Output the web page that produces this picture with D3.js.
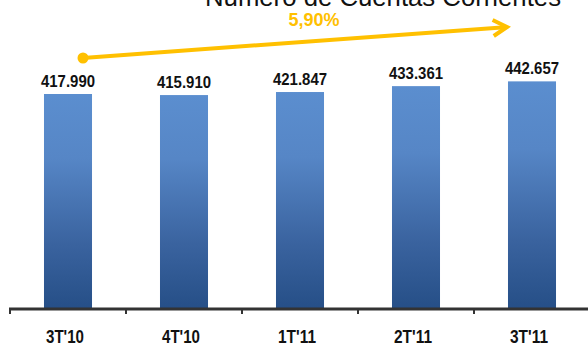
<!DOCTYPE html>
<html>
<head>
<meta charset="utf-8">
<script src="https://cdn.jsdelivr.net/npm/d3@7"></script>
<style>
  html, body { margin: 0; padding: 0; background: #fff; }
  svg { display: block; }
</style>
</head>
<body>
<svg id="chart" width="588" height="347"></svg>
<script>
// Cuentas corrientes por trimestre
const categories = ["3T'10", "4T'10", "1T'11", "2T'11", "3T'11"];
const cuentas = [417990, 415910, 421847, 433361, 442657];
const titulo = "Número de Cuentas Corrientes";
const crecimiento = "5,90%";

const W = 588, H = 347;
const baseY = 308;
const svg = d3.select("#chart");

const fmt = d3.formatLocale({ decimal: ",", thousands: ".", grouping: [3], currency: ["", ""] }).format(",d");

const x = d3.scaleBand()
  .domain(categories)
  .range([10, 590])
  .paddingInner(0.586)
  .paddingOuter(0.293);

const y = d3.scaleLinear()
  .domain([0, 450000])
  .range([baseY, baseY - 450000 * 214 / 417990]);

// bar gradient
const defs = svg.append("defs");
const grad = defs.append("linearGradient")
  .attr("id", "barGrad")
  .attr("x1", 0).attr("y1", 0).attr("x2", 0).attr("y2", 1);
grad.append("stop").attr("offset", "0%").attr("stop-color", "#5b8ecf");
grad.append("stop").attr("offset", "30%").attr("stop-color", "#5686c6");
grad.append("stop").attr("offset", "70%").attr("stop-color", "#3a639f");
grad.append("stop").attr("offset", "100%").attr("stop-color", "#264f87");

// bars
svg.append("g").selectAll("rect")
  .data(categories)
  .join("rect")
  .attr("x", d => x(d))
  .attr("width", x.bandwidth())
  .attr("y", (d, i) => y(cuentas[i]))
  .attr("height", (d, i) => baseY - y(cuentas[i]))
  .attr("fill", "url(#barGrad)");

// value labels
svg.append("g").selectAll("text")
  .data(categories)
  .join("text")
  .attr("x", d => x(d) + x.bandwidth() / 2)
  .attr("y", (d, i) => y(cuentas[i]) - 7)
  .attr("text-anchor", "middle")
  .attr("font-family", "'Liberation Sans', Arial, sans-serif")
  .attr("font-weight", "bold")
  .attr("font-size", 17)
  .attr("textLength", 54)
  .attr("lengthAdjust", "spacingAndGlyphs")
  .attr("fill", "#111")
  .text((d, i) => fmt(cuentas[i]));

// axis line and boundary ticks
const step = x.step();
const edge = d => x(d) - x.paddingOuter() * step;
svg.append("line")
  .attr("x1", 9).attr("x2", W)
  .attr("y1", baseY + 1).attr("y2", baseY + 1)
  .attr("stroke", "#333").attr("stroke-width", 3);
svg.append("g").selectAll("line")
  .data(categories)
  .join("line")
  .attr("x1", d => edge(d)).attr("x2", d => edge(d))
  .attr("y1", baseY + 1).attr("y2", baseY + 6)
  .attr("stroke", "#333").attr("stroke-width", 2);

// category labels
svg.append("g").selectAll("text")
  .data(categories)
  .join("text")
  .attr("x", d => x(d) + x.bandwidth() / 2 - 3)
  .attr("y", 343)
  .attr("text-anchor", "middle")
  .attr("font-family", "'Liberation Sans', Arial, sans-serif")
  .attr("font-weight", "bold")
  .attr("font-size", 18)
  .attr("textLength", 38)
  .attr("lengthAdjust", "spacingAndGlyphs")
  .attr("fill", "#111")
  .text(d => d);

// title (partly above the top edge)
svg.append("text")
  .attr("x", 383)
  .attr("y", 6)
  .attr("text-anchor", "middle")
  .attr("font-family", "'Liberation Sans', Arial, sans-serif")
  .attr("font-size", 26)
  .attr("textLength", 356)
  .attr("lengthAdjust", "spacingAndGlyphs")
  .attr("fill", "#111")
  .text(titulo);

// growth arrow
const gold = "#ffc000";
const p0 = [83, 58], p1 = [507, 27];
const ang = Math.atan2(p1[1] - p0[1], p1[0] - p0[0]);
const arm = 16, spread = Math.PI / 6;
svg.append("line")
  .attr("x1", p0[0]).attr("y1", p0[1])
  .attr("x2", p1[0] - 2 * Math.cos(ang)).attr("y2", p1[1] - 2 * Math.sin(ang))
  .attr("stroke", gold).attr("stroke-width", 4);
svg.append("path")
  .attr("d", d3.line()([
    [p1[0] - arm * Math.cos(ang - spread), p1[1] - arm * Math.sin(ang - spread)],
    p1,
    [p1[0] - arm * Math.cos(ang + spread), p1[1] - arm * Math.sin(ang + spread)]
  ]))
  .attr("fill", "none")
  .attr("stroke", gold).attr("stroke-width", 4)
  .attr("stroke-linejoin", "miter");
svg.append("circle")
  .attr("cx", p0[0]).attr("cy", p0[1]).attr("r", 5.5)
  .attr("fill", gold);

svg.append("text")
  .attr("x", 314)
  .attr("y", 26)
  .attr("text-anchor", "middle")
  .attr("font-family", "'Liberation Sans', Arial, sans-serif")
  .attr("font-weight", "bold")
  .attr("font-size", 18)
  .attr("fill", gold)
  .text(crecimiento);
</script>
</body>
</html>
